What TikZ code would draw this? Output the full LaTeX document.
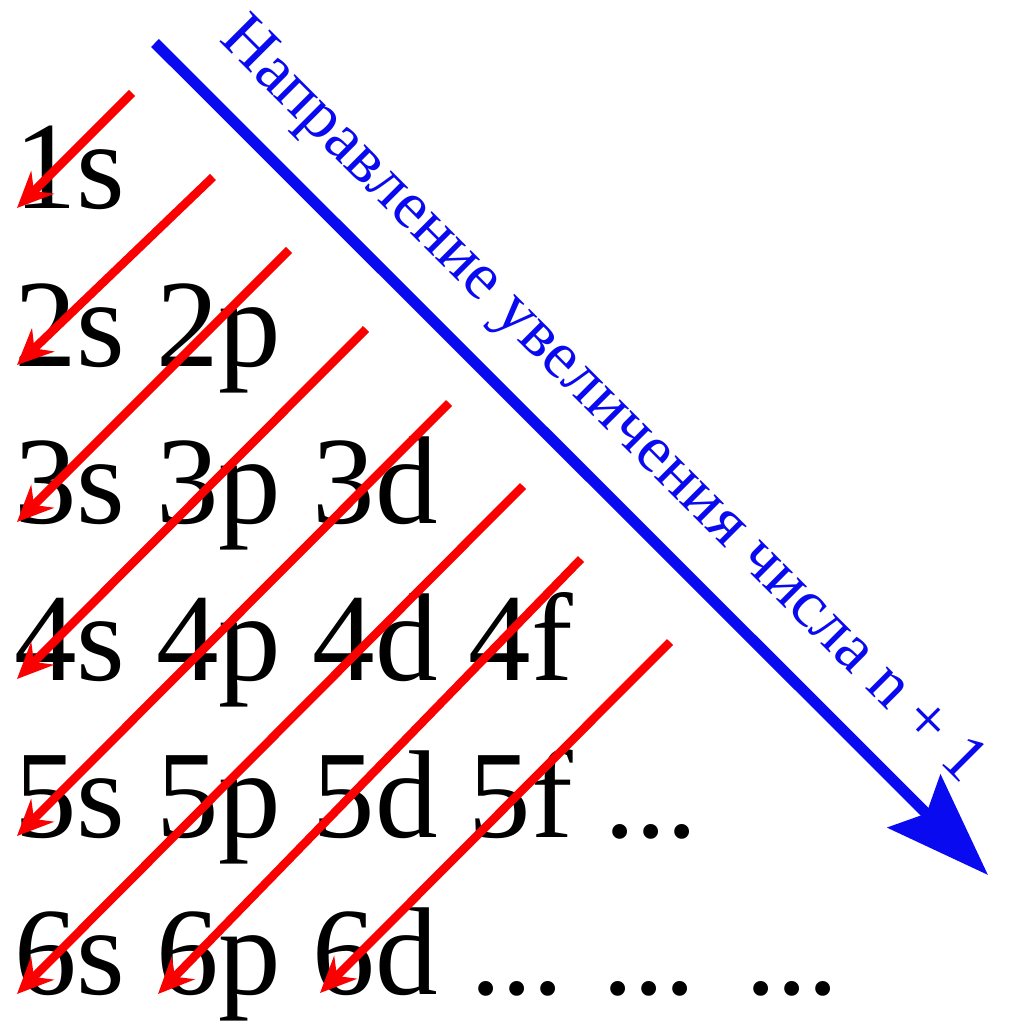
\documentclass[tikz,border=0pt]{standalone}
\usepackage{fontspec}
\setmainfont{Liberation Serif}
\usetikzlibrary{arrows.meta}
\definecolor{myred}{RGB}{250,0,0}
\definecolor{myblue}{RGB}{10,10,240}
\tikzset{
  orb/.style={anchor=base west, inner sep=0pt, outer sep=0pt, font=\fontsize{125}{125}\selectfont},
  dir/.style={anchor=base west, inner sep=0pt, outer sep=0pt, text=myblue, rotate=-45, font=\fontsize{67}{67}\selectfont},
  redarrow/.style={draw=myred, line width=8.5pt, -{Stealth[length=36pt,width=32pt,inset=12pt]}, fill=myred},
  bluearrow/.style={draw=myblue, line width=11pt, -{Stealth[length=104pt,width=74pt,inset=17pt]}, fill=myblue}
}
\begin{document}
\begin{tikzpicture}[x=1pt,y=-1pt]
\useasboundingbox (0,0) rectangle (1019,1024);
\fill[white] (0,0) rectangle (1019,1024);
% rows
\node[orb] (r1) at (14,209) {1s};
\node[orb] (r2) at (14,366) {2s 2p};
\node[orb] (r3) at (14,523) {3s 3p 3d};
\node[orb] (r4) at (14,680) {4s 4p 4d 4f};
\node[orb] (r5) at (14,837) {5s 5p 5d 5f ...};
\node[orb] (r6) at (14,994) {6s 6p 6d};
\node[orb] (d1) at (470,994) {...};
\node[orb] (d2) at (602,994) {...};
\node[orb] (d3) at (745,994) {...};
% blue direction arrow
\coordinate (b0) at (155,43);
\coordinate (b1) at (988,875);
\draw[bluearrow] (b0) -- (b1);
\node[dir] (lab) at (218,41) {Направление увеличения числа n + 1};
% red arrows
\coordinate (s1) at (132,93);  \coordinate (t1) at (17,208);
\coordinate (s2) at (213,177); \coordinate (t2) at (17,365);
\coordinate (s3) at (289,250); \coordinate (t3) at (17,522);
\coordinate (s4) at (366,329); \coordinate (t4) at (17,679);
\coordinate (s5) at (449,403); \coordinate (t5) at (17,836);
\coordinate (s6) at (523,486); \coordinate (t6) at (17,994);
\coordinate (s7) at (581,559); \coordinate (t7) at (158,994);
\coordinate (s8) at (670,642); \coordinate (t8) at (320,993);
\foreach \i in {1,...,8} {\draw[redarrow] (s\i) -- (t\i);}
\end{tikzpicture}
\end{document}
